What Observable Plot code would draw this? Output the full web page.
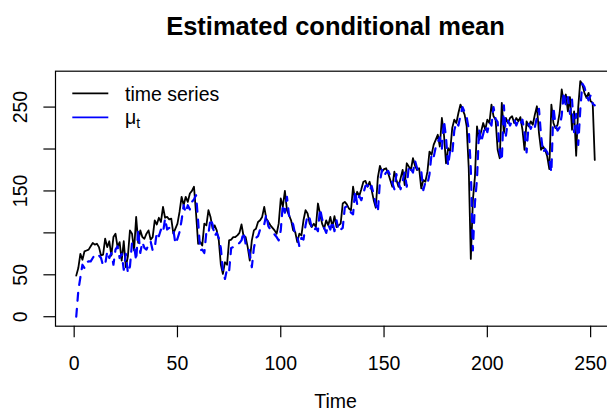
<!DOCTYPE html>
<html><head><meta charset="utf-8">
<script src="https://cdn.jsdelivr.net/npm/d3@7"></script>
<script src="https://cdn.jsdelivr.net/npm/@observablehq/plot@0.6"></script>
<style>
html,body{margin:0;padding:0;background:#fff;overflow:hidden;}
#chart{width:607px;height:416px;overflow:hidden;position:relative;}
#chart svg{max-width:none !important;width:616px;height:416px;display:block;}
</style></head><body><div id="chart"></div>
<script>
const seriesValues = [
49,58,75,68,78,79,80,84,88,86,
87,83,73,74,93,83,90,73,95,99,
83,89,67,90,59,72,103,99,79,119,
88,103,95,93,99,103,92,95,115,110,
118,113,131,118,119,116,117,99,105,111,
125,143,133,143,137,147,150,155,123,87,
89,85,111,109,127,119,105,109,103,91,
62,51,65,62,91,92,95,95,97,100,
110,96,95,83,67,91,103,105,113,115,
119,131,117,113,109,106,103,99,111,141,
131,150,127,121,115,103,101,89,99,97,
115,127,123,111,107,111,107,135,123,111,
105,115,109,119,107,120,107,109,111,135,
137,134,129,127,155,139,149,144,152,161,
162,155,161,151,139,130,166,180,173,176,
177,171,163,155,173,163,155,165,175,157,
183,179,175,189,180,175,177,153,163,161,
173,197,193,205,211,217,203,237,217,183,
201,197,225,235,231,243,253,247,241,227,
177,69,139,167,227,211,221,231,223,235,
231,253,239,235,199,189,255,219,237,231,
237,239,231,237,233,238,223,199,233,227,
233,229,241,251,219,199,203,199,191,176,
253,231,225,229,243,271,255,265,245,262,
223,245,192,250,281,277,267,261,267,257,
255,187
];
const meanValues = [
0,31,47,62,58,65,66,66,70,74,
72,73,70,61,62,78,70,76,62,80,
84,70,75,56,75,52,60,88,85,67,
104,76,89,82,80,86,90,79,82,101,
96,104,100,117,104,106,103,104,87,93,
101,115,133,124,133,128,137,140,145,114,
79,80,76,101,99,117,110,96,100,94,
82,55,45,57,54,82,83,86,86,88,
91,101,87,86,75,59,82,94,96,104,
106,110,122,108,104,101,98,95,91,103,
134,124,143,121,115,110,98,96,84,94,
92,109,121,117,106,102,106,102,129,117,
106,100,110,104,114,102,115,102,104,106,
130,132,129,124,122,150,134,144,139,147,
156,157,150,156,146,134,125,161,175,168,
172,174,168,160,152,170,160,152,162,172,
155,180,176,172,186,177,172,174,151,160,
158,170,194,190,202,208,214,200,234,214,
180,198,194,222,232,228,240,250,244,238,
224,176,79,136,164,224,208,218,228,220,
232,228,250,236,232,196,186,252,216,234,
228,234,236,228,234,230,235,220,196,230,
224,230,226,238,248,216,196,200,196,188,
172,250,228,222,226,240,268,252,262,242,
259,220,242,205,247,278,274,264,258,264,
254,252
];
const xTicks = [0, 50, 100, 150, 200, 250];
const yTicks = [0, 50, 100, 150, 200, 250];
const yTickLabels = [0, 50, 150, 250];
const titleText = "Estimated conditional mean";
const xLabel = "Time";
const legendLabels = ["time series", "μ", "t"];

const rows = seriesValues.map((v, i) => ({t: i + 1, y: v, mu: meanValues[i]}));

const plot = Plot.plot({
  width: 616, height: 416,
  marginLeft: 55, marginTop: 70.7, marginRight: 1, marginBottom: 90.3,
  x: {domain: [-9.04, 262.04]},
  y: {domain: [-11.3, 292.8]},
  style: {fontFamily: "'Liberation Sans', Arial, sans-serif", fontSize: "19.5px", color: "black", background: "white", overflow: "visible", maxWidth: "none"},
  marks: [
    Plot.frame({stroke: "black", strokeWidth: 1.2}),
    Plot.axisX({ticks: xTicks, tickSize: 11.6, tickPadding: 18.5, tickFormat: d => String(d), label: null, strokeWidth: 1.2}),
    Plot.axisY({ticks: yTicks, tickSize: 11.6, tickFormat: () => "", label: null, strokeWidth: 1.2}),
    Plot.text(yTickLabels, {y: d => d, text: d => String(d), frameAnchor: "left", dx: -28.5, rotate: -90, textAnchor: "middle", lineAnchor: "bottom"}),
    Plot.line(rows, {x: "t", y: "y", stroke: "black", strokeWidth: 1.8}),
    Plot.line(rows, {x: "t", y: "mu", stroke: "#0000ff", strokeWidth: 2.2, strokeDasharray: "8,8"}),
    Plot.text([titleText], {text: d => d, frameAnchor: "top", dy: -36.2, lineAnchor: "bottom", fontWeight: "bold", fontSize: 25.5}),
    Plot.text([xLabel], {text: d => d, frameAnchor: "bottom", dy: 82, lineAnchor: "bottom"})
  ]
});

const svg = d3.select(plot);
const g = svg.append("g")
  .attr("font-family", "'Liberation Sans', Arial, sans-serif")
  .attr("font-size", "19.5px")
  .attr("text-anchor", "start");
g.append("line").attr("x1", 72.3).attr("x2", 108.3).attr("y1", 93.3).attr("y2", 93.3)
  .attr("stroke", "black").attr("stroke-width", 1.8);
g.append("line").attr("x1", 72.3).attr("x2", 108.3).attr("y1", 117.3).attr("y2", 117.3)
  .attr("stroke", "#0000ff").attr("stroke-width", 1.8);
g.append("text").attr("x", 125).attr("y", 100.5).text(legendLabels[0]);
const mu = g.append("text").attr("x", 125).attr("y", 123.5);
mu.append("tspan").text(legendLabels[1]);
mu.append("tspan").attr("font-size", "14px").attr("dy", 4).text(legendLabels[2]);

document.getElementById("chart").appendChild(plot);
</script>
</body></html>
